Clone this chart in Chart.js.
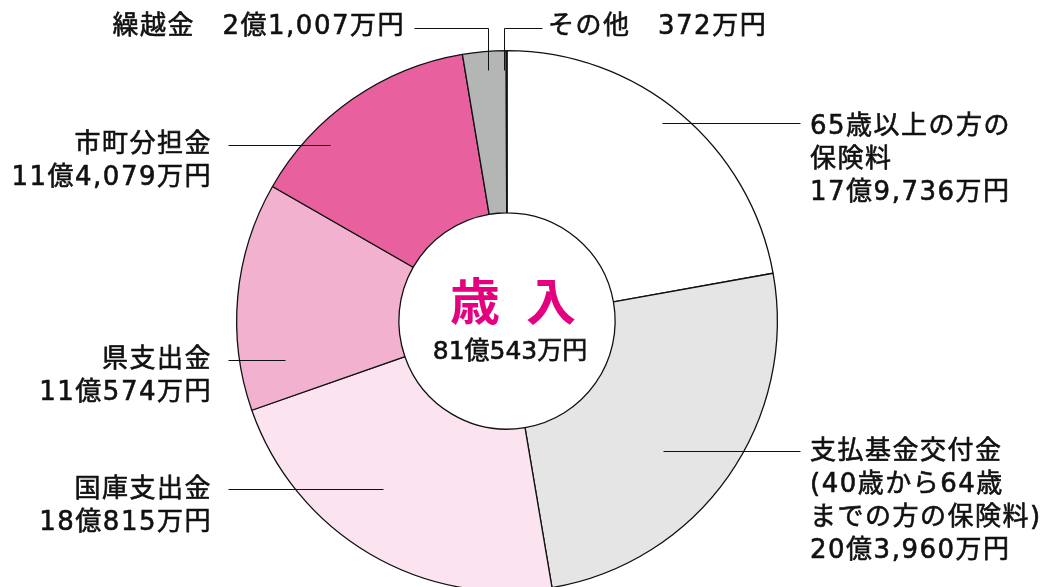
<!DOCTYPE html>
<html lang="ja">
<head>
<meta charset="utf-8">
<title>歳入</title>
<script src="https://cdn.jsdelivr.net/npm/chart.js@4.4.1/dist/chart.umd.min.js"></script>
<style>
  html, body { margin: 0; padding: 0; background: #fff; overflow: hidden; }
  #wrap { width: 1044px; height: 600px; }
</style>
</head>
<body>
<div id="wrap"><canvas id="graficoIngresos" width="1044" height="600"></canvas></div>
<script>
// 単位：万円
const categorias = ['65歳以上の方の保険料', '支払基金交付金', '国庫支出金', '県支出金', '市町分担金', '繰越金', 'その他'];
const importes = [179736, 203960, 180815, 110574, 114079, 21007, 372];
const colores = ['#ffffff', '#e5e5e5', '#fbe3ef', '#f2b1cf', '#e9609e', '#b4b5b5', '#555555'];

// etiquetas: líneas de texto de cada porción
const etiquetas = [
    ['65歳以上の方の', '保険料', '17億9,736万円'],
    ['支払基金交付金', '(40歳から64歳', 'までの方の保険料)', '20億3,960万円'],
    ['国庫支出金', '18億815万円'],
    ['県支出金', '11億574万円'],
    ['市町分担金', '11億4,079万円'],
    ['繰越金　2億1,007万円'],
    ['その他　372万円']
];
const tituloCentro = ['歳', '入'];
const totalCentro = '81億543万円';

const fuente = '"DejaVu Sans", "Noto Sans CJK JP", sans-serif';
const fuenteTitulo = '"Noto Sans CJK JP", sans-serif';

// posiciones de texto y líneas guía
const guias = [
    { x: 810, y: 127, align: 'left', linea: [[800, 123], [662, 123]] },
    { x: 810, y: 452, align: 'left', linea: [[800, 451], [663, 451]] },
    { x: 212, y: 490, align: 'right', linea: [[228, 489], [383, 489]] },
    { x: 212, y: 360, align: 'right', linea: [[228, 360], [285, 360]] },
    { x: 212, y: 145, align: 'right', linea: [[228, 145], [330, 145]] },
    { x: 405, y: 27, align: 'right', linea: [[414, 28], [488, 28], [488, 70]] },
    { x: 548, y: 27, align: 'left', linea: [[542, 28], [504, 28], [504, 70]] }
];

// texto con trazo fino para darle algo más de peso
function textoGrueso(ctx, t, x, y) {
    ctx.fillText(t, x, y);
    ctx.strokeText(t, x, y);
}

const pluginEtiquetas = {
    id: 'pluginEtiquetas',
    afterDraw(chart) {
        const ctx = chart.ctx;
        const arco = chart.getDatasetMeta(0).data[0];
        const cx = arco.x, cy = arco.y;
        ctx.save();

        // líneas guía
        ctx.strokeStyle = '#111';
        ctx.lineWidth = 1;
        guias.forEach(g => {
            ctx.beginPath();
            g.linea.forEach((p, i) => {
                const x = p[0] + 0.5, y = p[1] + 0.5;
                if (i === 0) ctx.moveTo(x, y); else ctx.lineTo(x, y);
            });
            ctx.stroke();
        });

        // textos
        ctx.fillStyle = '#111';
        ctx.strokeStyle = '#111';
        ctx.lineWidth = 0.6;
        ctx.font = '26px ' + fuente;
        ctx.textBaseline = 'middle';
        ctx.letterSpacing = '1.5px';
        etiquetas.forEach((lineas, i) => {
            const g = guias[i];
            ctx.textAlign = g.align;
            lineas.forEach((t, j) => textoGrueso(ctx, t, g.x, g.y + j * 33));
        });

        // centro
        ctx.letterSpacing = '0px';
        ctx.textAlign = 'center';
        ctx.fillStyle = '#e4007f';
        ctx.font = 'bold 50px ' + fuenteTitulo;
        ctx.fillText(tituloCentro[0], cx - 32, cy - 20);
        ctx.fillText(tituloCentro[1], cx + 44, cy - 20);
        ctx.fillStyle = '#111';
        ctx.font = '25px ' + fuente;
        textoGrueso(ctx, totalCentro, cx + 3, cy + 31);
        ctx.restore();
    }
};

const ctxIngresos = document.getElementById('graficoIngresos').getContext('2d');
const graficoIngresos = new Chart(ctxIngresos, {
    type: 'doughnut',
    data: {
        labels: categorias,
        datasets: [{
            data: importes,
            backgroundColor: colores,
            borderColor: '#111',
            borderWidth: 1.3,
            borderAlign: 'center'
        }]
    },
    options: {
        responsive: false,
        animation: false,
        cutout: '40%',
        rotation: 0,
        layout: {
            padding: { left: 236, right: 266, top: 50, bottom: 8 }
        },
        plugins: {
            legend: { display: false },
            tooltip: { enabled: false }
        }
    },
    plugins: [pluginEtiquetas]
});
</script>
</body>
</html>
